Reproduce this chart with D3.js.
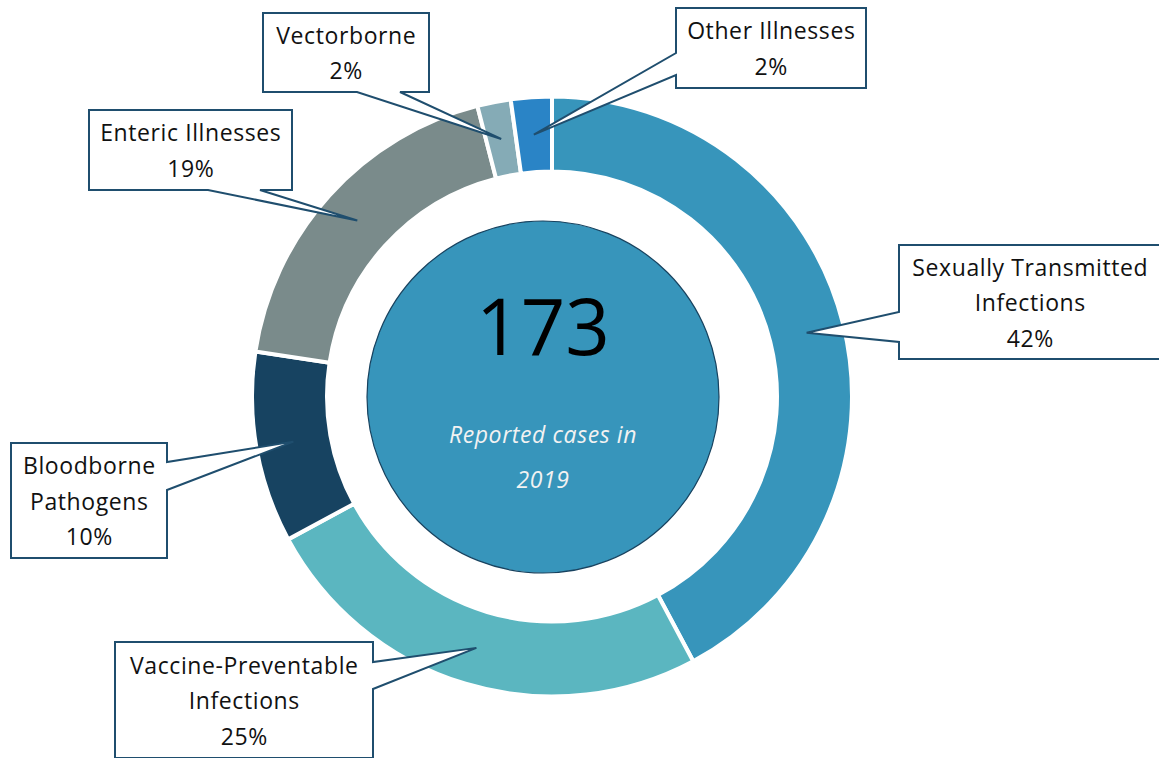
<!DOCTYPE html>
<html>
<head>
<meta charset="utf-8">
<script src="https://cdn.jsdelivr.net/npm/d3@7"></script>
<style>
  html, body { margin: 0; padding: 0; background: #fff; }
  svg { display: block; }
</style>
</head>
<body>
<svg id="chart" width="1159" height="758"></svg>
<script>
// ---- data ----
const categories = ["Sexually Transmitted Infections", "Vaccine-Preventable Infections", "Bloodborne Pathogens", "Enteric Illnesses", "Vectorborne", "Other Illnesses"];
const labelLines = [["Sexually Transmitted", "Infections"], ["Vaccine-Preventable", "Infections"], ["Bloodborne", "Pathogens"], ["Enteric Illnesses"], ["Vectorborne"], ["Other Illnesses"]];
// shares (%)
const shares = [42.2, 24.9, 10.3, 18.6, 1.8, 2.2];
const colors = ["#3795bb", "#5bb6c0", "#174361", "#7a8b8b", "#85abb6", "#2a84c6"];
const totalLabel = "173";
const centerCaption = ["Reported cases in", "2019"];

// ---- layout (callout boxes) ----
const callouts = [
  { x: 899, y: 245, w: 262, h: 114, side: "left",   g1: 312, g2: 342 },
  { x: 115, y: 642, w: 258, h: 116, side: "right",  g1: 662, g2: 689 },
  { x: 11,  y: 443, w: 156, h: 115, side: "right",  g1: 462, g2: 490 },
  { x: 89,  y: 110, w: 203, h: 80,  side: "bottom", g1: 208, g2: 260 },
  { x: 263, y: 13,  w: 166, h: 79,  side: "bottom", g1: 357, g2: 400 },
  { x: 676, y: 8,   w: 190, h: 80,  side: "left",   g1: 53,  g2: 75 }
];

const FONT = "'Open Sans', 'Noto Sans', sans-serif";
const cx = 552, cy = 396.5, rOuter = 300, rInner = 225;
const svg = d3.select("#chart");
const total = d3.sum(shares);
const data = categories.map((c, i) => ({ name: c, value: shares[i], color: colors[i], lines: labelLines[i], pct: Math.round(shares[i] / total * 100) + "%", co: callouts[i] }));

const pie = d3.pie().value(d => d.value).sort(null);
const arc = d3.arc().innerRadius(rInner).outerRadius(rOuter);
const midArc = d3.arc().innerRadius((rInner + rOuter) / 2).outerRadius((rInner + rOuter) / 2);
const arcs = pie(data);

const g = svg.append("g").attr("transform", `translate(${cx},${cy})`);
g.selectAll("path.slice").data(arcs).join("path")
  .attr("class", "slice")
  .attr("d", arc)
  .attr("fill", d => d.data.color)
  .attr("stroke", "#fff")
  .attr("stroke-width", 4);

// center circle
const ccx = 543, ccy = 397, cr = 176;
svg.append("circle").attr("cx", ccx).attr("cy", ccy).attr("r", cr)
  .attr("fill", "#3795bb").attr("stroke", "#17425f").attr("stroke-width", 1.2);
svg.append("text").attr("x", ccx).attr("y", 355).attr("text-anchor", "middle")
  .attr("font-family", FONT).attr("font-size", 78)
  .attr("fill", "#000").text(totalLabel);
centerCaption.forEach((t, i) => {
  svg.append("text").attr("x", ccx).attr("y", 443 + i * 45).attr("text-anchor", "middle")
    .attr("font-family", FONT).attr("font-style", "italic")
    .attr("font-size", 23).attr("letter-spacing", 0.6).attr("fill", "#f2f2f2").text(t);
});

// callouts
function calloutPath(b, tip) {
  const x0 = b.x, y0 = b.y, x1 = b.x + b.w, y1 = b.y + b.h;
  const [tx, ty] = tip;
  let p = `M${x0},${y0} L${x1},${y0} `;
  if (b.side === "right") p += `L${x1},${b.g1} L${tx},${ty} L${x1},${b.g2} `;
  p += `L${x1},${y1} `;
  if (b.side === "bottom") p += `L${b.g2},${y1} L${tx},${ty} L${b.g1},${y1} `;
  p += `L${x0},${y1} `;
  if (b.side === "left") p += `L${x0},${b.g2} L${tx},${ty} L${x0},${b.g1} `;
  p += "Z";
  return p;
}

arcs.forEach(a => {
  const d = a.data, b = d.co;
  const c = midArc.centroid(a);
  const tip = [c[0] + cx, c[1] + cy];
  svg.append("path").attr("d", calloutPath(b, tip))
    .attr("fill", "#fff").attr("stroke", "#1f4e6e").attr("stroke-width", 2)
    .attr("stroke-linejoin", "miter");
  const lines = d.lines.concat([d.pct]);
  const n = lines.length;
  const lh = 35.5;
  const midY = b.y + b.h / 2;
  lines.forEach((t, i) => {
    svg.append("text")
      .attr("x", b.x + b.w / 2 + 0.3)
      .attr("y", midY + (i - (n - 1) / 2) * lh + 9)
      .attr("text-anchor", "middle")
      .attr("font-family", FONT)
      .attr("font-size", 23)
      .attr("letter-spacing", 0.6)
      .attr("fill", "#111")
      .text(t);
  });
});
</script>
</body>
</html>
